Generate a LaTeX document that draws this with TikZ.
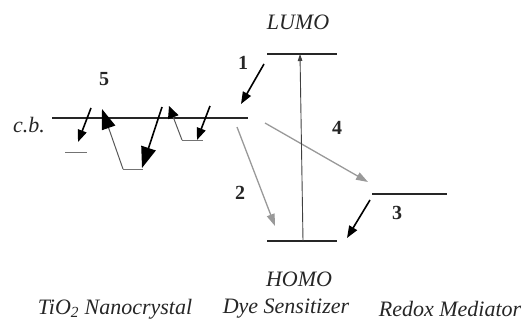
\documentclass[tikz,border=0pt]{standalone}
\usepackage{fontspec}
\setmainfont{Liberation Serif}
\usetikzlibrary{arrows.meta}
\begin{document}
\begin{tikzpicture}[x=1pt,y=-1pt,
  level/.style={line width=1.6pt, black!85},
  trap/.style={line width=1pt, black!55},
  bigup/.style={line width=1pt, black!65, -{Triangle[length=20pt,width=14pt,color=black]}},
  bigdn/.style={line width=1.6pt, black, -{Triangle[length=21pt,width=15pt]}},
  smup/.style={line width=1pt, black!65, -{Triangle[length=12pt,width=11pt,color=black]}},
  blk/.style={line width=1.6pt, black, -{Triangle[length=12pt,width=9pt]}},
  gry/.style={line width=1.3pt, black!40, -{Triangle[length=12pt,width=8pt]}},
  exc/.style={line width=0.9pt, black!75, -{Triangle[length=7pt,width=4.5pt]}},
  lbl/.style={font=\fontsize{22}{25}\selectfont\itshape, inner sep=0pt, text=black!85},
  num/.style={font=\fontsize{20}{23}\selectfont\bfseries, inner sep=0pt, text=black!85}]
\useasboundingbox (0,0) rectangle (532,326);
% energy levels
\coordinate (cbL) at (52,118); \coordinate (cbR) at (248,118);
\coordinate (luL) at (267,54); \coordinate (luR) at (337,54);
\coordinate (hoL) at (267,241); \coordinate (hoR) at (337,241);
\coordinate (rdL) at (372,194); \coordinate (rdR) at (447,194);
\draw[level] (cbL) -- (cbR);
\draw[level] (luL) -- (luR);
\draw[level] (hoL) -- (hoR);
\draw[level] (rdL) -- (rdR);
% traps
\coordinate (t1L) at (65,152); \coordinate (t1R) at (87,152);
\coordinate (t2L) at (123,169); \coordinate (t2R) at (143,169);
\coordinate (t3L) at (182,140); \coordinate (t3R) at (203,140);
\draw[trap] (t1L) -- (t1R);
\draw[trap] (t2L) -- (t2R);
\draw[trap] (t3L) -- (t3R);
% trapping / detrapping arrows
\coordinate (a1s) at (91,108); \coordinate (a1e) at (78,142);
\coordinate (u1e) at (102,109);
\coordinate (d1s) at (162,107); \coordinate (d1e) at (142,168);
\coordinate (u2e) at (169,106);
\coordinate (d2s) at (210,106); \coordinate (d2e) at (197,140);
\draw[blk] (a1s) -- (a1e);
\draw[bigup] (t2L) -- (u1e);
\draw[bigdn] (d1s) -- (d1e);
\draw[smup] (t3L) -- (u2e);
\draw[blk] (d2s) -- (d2e);
% process arrows
\coordinate (p1s) at (264,64); \coordinate (p1e) at (241,104);
\coordinate (p3s) at (370,200); \coordinate (p3e) at (347,238);
\coordinate (p2s) at (237,127); \coordinate (p2e) at (275,226);
\coordinate (pxs) at (265,123); \coordinate (pxe) at (368,182);
\coordinate (p4s) at (303,241); \coordinate (p4e) at (300,54);
\draw[blk] (p1s) -- (p1e);
\draw[blk] (p3s) -- (p3e);
\draw[gry] (p2s) -- (p2e);
\draw[gry] (pxs) -- (pxe);
\draw[exc] (p4s) -- (p4e);
% labels
\node[lbl] (cb) at (29,125) {c.b.};
\node[lbl] (lumo) at (298,22) {LUMO};
\node[lbl] (homo) at (299,279) {HOMO};
\node[num] (n5) at (104,79) {5};
\node[num] (n1) at (243,63) {1};
\node[num] (n4) at (337,128) {4};
\node[num] (n2) at (240,193) {2};
\node[num] (n3) at (397,213) {3};
\node[lbl] (tio) at (115,309) {TiO\textsubscript{2} Nanocrystal};
\node[lbl] (dye) at (286,309) {Dye Sensitizer};
\node[lbl] (red) at (450,309) {Redox Mediator};
\end{tikzpicture}
\end{document}
